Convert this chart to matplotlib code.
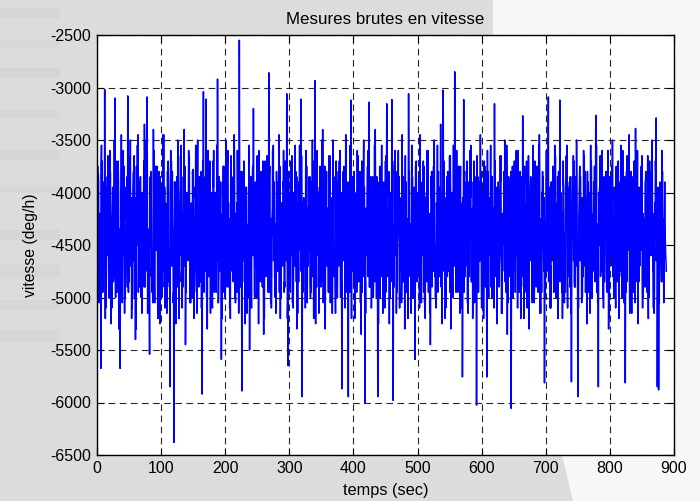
import numpy as np
import matplotlib
matplotlib.use("Agg")
import matplotlib.pyplot as plt
from matplotlib.patches import Polygon, Rectangle

# ---- data (deg/h) ----
# samples at even seconds (0, 2, 4, ...)
vitesse_even = [
    -4750, -3820, -4900, -5675, -3700, -4600, -3020, -5100, -3950, -4450,
    -3600, -5250, -4100, -4800, -3100, -4950, -3900, -5300, -5675, -3450,
    -4700, -3750, -5000, -4200, -3080, -4850, -3500, -5200, -4050, -3650,
    -5400, -4300, -3450, -4900, -3850, -5150, -4000, -3350, -4750, -3090,
    -4600, -5540, -3800, -4950, -3400, -5050, -4100, -3750, -4500, -5250,
    -3950, -4700, -3450, -5100, -4250, -3800, -4850, -5850, -3700, -4400,
    -6380, -3900, -4650, -3500, -5200, -4100, -3850, -4900, -3400, -5450,
    -4000, -4550, -3650, -5050, -4300, -3780, -4950, -3550, -5150, -4150,
    -3850, -4700, -5920, -3040, -4600, -3110, -5300, -4000, -3700, -4850,
    -5100, -3600, -4400, -4950, -2920, -4800, -3900, -5590, -4200, -3750,
    -5000, -4350, -3600, -4750, -5200, -3850, -4550, -3450, -5050, -4100,
    -3700, -2550, -4900, -5890, -3800, -4650, -3950, -5150, -4300, -5500,
    -3850, -4600, -3200, -5000, -4200, -3650, -5250, -4050, -3800, -4900,
    -5350, -3700, -4500, -4000, -2860, -4800, -5100, -3600, -4350, -5000,
    -3800, -4650, -3450, -5200, -4100, -3900, -4950, -3700, -3060, -5650,
    -4000, -4550, -3650, -5100, -4250, -3800, -5300, -4450, -3550, -3110,
    -5945, -4100, -4700, -3600, -5050, -4300, -3850, -4950, -3500, -5200,
    -2935, -4650, -4000, -5150, -3750, -4500, -3400, -4900, -5300, -3800,
    -4450, -3650, -5050, -4200, -3500, -4800, -5150, -3900, -4350, -3700,
    -5000, -5870, -3800, -4600, -3450, -4950, -5945, -4100, -3120, -4750,
    -3950, -5200, -4350, -3600, -4850, -3800, -5350, -4050, -3500, -6000,
    -4250, -3750, -3140, -4900, -5100, -3850, -4600, -3400, -5000, -5945,
    -3900, -4700, -3550, -5150, -4200, -3700, -3155, -4800, -5250, -4000,
    -3115, -5980, -4300, -3800, -4950, -3600, -5100, -4150, -3450, -4850,
    -5300, -3900, -4500, -3060, -4750, -5150, -3850, -4300, -5590, -3700,
    -4600, -4050, -3450, -5050, -4350, -3750, -5200, -4000, -3600, -4900,
    -5450, -3800, -4650, -3500, -5000, -4150, -3900, -4800, -3350, -5250,
    -3025, -4700, -5100, -3850, -4400, -3650, -5300, -4050, -3550, -2850,
    -4950, -4200, -3750, -5150, -4550, -5757, -3115, -4800, -3900, -5050,
    -4300, -3600, -4850, -5200, -3700, -4500, -6025, -3850, -4650, -3450,
    -5100, -4000, -3700, -4900, -5757, -3800, -4450, -3550, -5000, -4150,
    -3155, -4800, -5250, -3900, -4600, -3650, -5150, -4250, -3500, -4950,
    -5350, -3850, -4500, -6055, -3750, -4700, -4050, -3600, -5100, -4350,
    -3800, -4900, -3270, -5200, -4100, -3700, -4800, -5300, -3950, -4450,
    -3550, -5050, -4200, -3750, -4950, -3450, -5150, -4000, -3850, -5813,
    -4400, -3700, -3090, -4850, -5100, -3900, -4600, -3550, -5000, -4250,
    -3800, -3120, -4750, -5200, -3950, -4500, -3650, -5100, -4150, -3850,
    -5803, -4300, -3700, -4900, -3500, -5945, -4100, -3850, -5050, -4450,
    -3650, -4950, -5250, -3900, -4600, -3550, -5000, -4200, -3750, -3265,
    -4850, -5850, -3950, -4500, -3600, -5100, -4300, -3800, -4950, -5300,
    -3850, -4650, -3500, -5000, -4150, -3750, -4800, -5200, -3900, -4400,
    -3600, -5050, -5813, -3800, -4550, -3450, -4900, -5150, -4000, -3700,
    -3390, -4850, -5250, -3950, -4500, -3650, -5000, -4250, -3800, -4950,
    -5200, -3700, -4600, -3500, -5100, -4100, -3290, -5850, -5880, -3900,
    -4700, -3800, -5050, -4300, -4750,
]
# samples at odd seconds (1, 3, 5, ...)
vitesse_odd = [
    -3750, -5050, -4200, -3550, -4950, -3900, -5200, -4400, -3650, -4850, -3800, -5100,
    -4100, -3500, -5000, -4650, -3700, -5250, -3950, -4750, -3600, -5150, -4300, -3850,
    -4950, -3650, -4500, -5100, -3800, -4050, -5300, -3550, -4700, -3900, -5000, -4250,
    -3700, -4900, -3500, -5150, -4350, -3850, -4800, -5050, -3600, -4450, -3950, -5200,
    -3800, -4600, -5000, -3450, -4750, -4100, -5150, -3700, -4900, -3600, -4400, -5050,
    -3900, -5250, -4150, -3650, -4850, -3550, -5100, -4300, -3750, -4950, -4050, -3600,
    -5050, -4400, -3800, -5200, -3950, -4700, -3500, -4900, -4250, -5100, -3700, -4600,
    -3850, -5000, -3600, -4800, -5150, -4000, -3700, -4950, -4350, -3550, -5050, -3900,
    -4650, -5200, -3750, -4450, -3500, -4900, -4100, -5100, -3650, -4750, -3850, -5000,
    -4200, -3600, -5150, -4550, -3800, -4850, -3700, -5250, -3950, -4650, -3550, -4950,
    -5100, -3750, -4300, -3900, -5000, -4700, -3600, -4850, -4150, -3700, -5200, -4400,
    -3650, -4950, -3850, -5050, -4250, -3550, -4800, -5150, -3900, -4500, -3750, -5000,
    -4100, -3600, -4900, -4350, -5200, -3800, -4650, -3700, -5050, -4000, -3550, -4850,
    -5150, -3900, -4450, -3650, -4950, -4200, -5100, -3750, -4600, -3850, -5000, -4300,
    -3700, -4800, -5250, -3600, -4550, -3950, -4900, -3500, -5050, -4150, -3800, -4700,
    -4950, -3650, -4350, -5150, -3850, -4750, -3700, -5000, -4250, -3600, -4900, -4050,
    -3750, -5100, -4500, -3900, -4850, -3550, -5200, -4100, -3800, -4650, -4950, -3650,
    -4400, -5050, -3700, -4800, -3950, -5150, -4250, -3600, -4900, -3850, -4600, -5000,
    -3550, -4700, -4050, -5250, -3750, -4450, -3900, -4950, -5100, -3650, -4550, -3800,
    -5000, -4200, -3700, -4850, -3600, -5150, -4350, -3850, -4750, -5050, -3950, -4500,
    -3650, -4900, -5200, -3800, -4300, -3550, -5000, -4650, -3750, -4850, -4100, -5100,
    -3900, -4600, -3700, -5050, -4400, -3600, -4950, -5150, -3850, -4250, -3750, -4800,
    -5100, -3550, -4500, -3950, -4900, -4150, -3700, -5200, -4350, -3800, -4750, -3650,
    -4850, -5000, -3900, -4600, -3600, -4950, -4250, -3750, -5100, -4050, -3850, -4700,
    -3700, -5150, -4400, -3550, -4850, -3900, -5050, -4300, -3650, -4950, -4150, -3800,
    -4600, -5200, -3750, -4450, -3600, -5000, -4100, -3850, -4800, -5100, -3700, -4550,
    -3950, -4900, -3650, -5150, -4350, -3800, -4700, -3550, -5050, -4200, -3900, -4850,
    -5000, -3700, -4550, -4050, -3600, -4950, -5200, -3850, -4400, -3750, -4800, -5100,
    -3650, -4650, -3900, -5050, -4250, -3700, -4900, -4100, -3550, -5150, -4450, -3800,
    -4750, -5000, -3600, -4500, -3950, -5100, -4300, -3750, -4850, -3650, -4600, -5200,
    -3800, -4400, -4950, -3700, -5050, -4150, -3550, -4800, -3900, -5150, -4350, -3650,
    -4900, -3850, -4600, -5100, -3750, -4250, -5000, -3600, -4700, -4050, -3800, -4950,
    -5150, -3700, -4450, -3900, -4850, -3550, -5050, -4200, -3650, -4750, -5000, -3850,
    -4300, -4900, -3600, -5200, -4100, -3750, -4650, -3950, -5100, -4400, -3700, -4800,
    -3550, -5000, -4250, -3850, -4950, -3650, -4550, -5150, -3800, -4350, -3900, -5050,
    -4700, -3600, -4850, -4150, -3750, -5100, -4450, -3900, -4900, -3650, -5000, -4300,
    -3800, -4750, -5150, -3700, -4500, -3950, -5050, -4100, -3600, -4850, -4250, -4600,
]
# samples half-way between whole seconds (0.5, 1.5, 2.5, ...)
vitesse_half = [
    -4100, -4650, -3900, -4800, -4350, -4550, -3750, -4950, -4200, -4450, -4000, -4700,
    -4500, -3850, -4900, -4250, -4600, -4050, -5000, -4150, -3800, -4750, -4400, -4300,
    -3950, -4850, -4450, -4100, -4700, -3700, -4550, -4950, -4250, -3900, -4650, -4350,
    -4800, -4000, -4400, -5050, -3850, -4600, -4200, -4500, -4750, -3950, -4300, -4900,
    -4150, -4550, -3800, -4700, -4450, -4050, -4850, -4250, -3900, -4650, -5000, -4350,
    -4600, -3750, -4500, -4200, -4950, -4100, -4400, -3850, -4800, -4550, -4000, -4700,
    -4250, -4900, -3950, -4450, -4650, -4150, -3800, -4750, -4350, -5050, -4050, -4500,
    -3900, -4600, -4800, -4300, -4000, -4850, -4450, -3750, -4550, -4200, -4950, -4100,
    -4700, -4350, -3850, -4650, -4500, -4050, -4900, -4250, -4400, -3950, -4750, -4600,
    -4150, -5000, -4300, -3900, -4550, -4800, -4000, -4450, -4700, -3800, -4350, -4950,
    -4450, -4100, -4650, -4250, -3850, -4900, -4550, -4050, -4750, -4350, -3950, -4600,
    -4850, -4200, -4500, -3750, -4700, -4400, -4950, -4000, -4300, -4650, -4150, -3900,
    -4550, -4800, -4100, -4450, -5000, -3850, -4600, -4250, -4750, -4050, -4400, -4900,
    -3950, -4500, -4350, -4700, -4150, -4850, -3800, -4550, -4200, -4650, -4950, -4300,
    -4050, -4750, -4450, -3900, -4600, -4100, -4800, -4350, -3750, -4500, -4250, -4900,
    -4400, -3950, -4700, -4550, -4000, -4850, -4300, -4650, -4150, -5050, -3850, -4450,
    -4750, -4200, -4500, -3900, -4950, -4350, -4050, -4600, -4800, -4100, -4400, -3800,
    -4550, -4900, -4250, -4700, -3950, -4450, -4650, -4000, -4850, -4300, -3750, -4600,
    -4200, -4500, -4950, -4050, -4350, -4750, -3900, -4550, -4150, -4800, -4400, -4000,
    -4650, -3850, -4450, -4900, -4250, -4100, -4700, -4350, -5000, -3950, -4550, -4300,
    -4800, -4150, -3800, -4600, -4450, -4950, -4050, -4700, -4250, -3900, -4850, -4400,
    -4000, -4550, -4750, -4200, -3850, -4650, -4350, -4900, -4100, -4500, -3950, -4800,
    -4350, -4050, -4700, -4450, -4950, -3750, -4600, -4250, -4800, -4150, -4400, -4650,
    -3900, -4850, -4300, -4550, -4000, -4750, -4450, -3850, -4950, -4200, -4600, -4100,
    -4500, -4700, -3950, -4400, -4850, -4250, -4050, -4650, -4350, -5050, -3800, -4550,
    -4250, -4950, -4150, -4600, -3900, -4450, -4800, -4000, -4700, -4300, -4500, -3850,
    -4650, -4100, -4850, -4350, -4550, -3950, -4750, -4200, -4400, -4900, -4050, -4600,
    -4300, -3800, -4500, -4950, -4150, -4700, -4000, -4550, -4850, -4250, -3900, -4450,
    -4800, -4350, -4050, -4650, -4450, -3850, -4900, -4200, -4600, -4000, -4750, -4300,
    -3950, -4600, -4400, -4850, -4100, -4550, -4950, -3750, -4500, -4250, -4700, -4150,
    -4550, -4200, -4750, -3900, -4650, -4350, -4050, -4900, -4450, -3850, -4600, -4800,
    -4100, -4500, -4950, -4300, -3800, -4700, -4250, -4550, -4000, -4850, -4400, -4650,
    -4450, -3950, -4600, -4150, -4800, -4500, -4050, -4750, -4350, -3900, -4950, -4200,
    -4700, -4300, -3850, -4550, -4900, -4100, -4650, -4400, -4000, -4800, -4250, -4500,
    -3900, -4750, -4450, -4050, -4600, -4950, -4200, -3800, -4550, -4350, -4850, -4150,
    -4600, -4000, -4800, -4350, -4150, -4650, -3950, -4500, -4900, -4250, -4050, -4700,
    -4350, -4850, -4100, -4550, -3850, -4750, -4450, -4200, -4650, -5000, -3900, -4400,
    -4800, -4200, -4650, -3900, -4500, -4350, -4950, -4050, -4600, -4150, -4750, -4000,
    -4250, -4550, -4850, -4100, -4700, -3800, -4450, -4900, -4300, -4600, -3950, -4650,
    -4500, -3900, -4400, -4750, -4050, -4600, -4300, -4850, -4150, -3850, -4700, -4450,
    -4050, -4650, -4950, -4250, -4500, -4100, -3800, -4550, -4800, -4350, -4000, -4900,
    -4700, -4300, -3950, -4600, -4850, -4200, -4450, -4000, -4750, -4550, -3850, -4350,
    -4400, -4800, -4150, -4500, -3900, -4950, -4250, -4650, -4050, -4450, -4850, -4100,
    -3850, -4550, -4700, -4200, -4600, -4050, -4900, -4350, -3950, -4750, -4300, -4500,
    -4650, -4100, -4400, -4950, -3800, -4550, -4250, -4700, -4450, -4000, -4850, -4200,
    -4300, -4750, -4050, -4500, -4650, -3900, -4800, -4150, -4600, -4350, -4950, -3950,
    -4550, -4000, -4850, -4300, -4150, -4700, -4450, -3850, -4600, -4900, -4250, -4400,
    -4850, -4350, -3950, -4650, -4500, -4100, -4750, -4200, -4950, -3800, -4550, -4050,
    -4200, -4600, -4450, -3900, -4800, -4300, -4050, -4700, -4500, -4150, -4850, -4400,
    -4500, -3850, -4750, -4250, -4550, -4950, -4000, -4400, -3900, -4650, -4350, -4800,
    -3950, -4700, -4300, -4600, -4100, -4850, -4450, -3800, -4550, -4200, -4900, -4050,
    -4600, -4150, -4900, -4400, -3850, -4500, -4750, -4250, -4050, -4650, -3950, -4550,
    -4350, -4800, -4050, -4700, -4450, -3900, -4600, -4950, -4200, -4500, -4100, -4750,
    -4850, -4250, -4550, -3950, -4650, -4350, -4100, -4800, -4400, -3800, -4700, -4300,
    -4000, -4500, -4750, -4200, -4950, -4050, -4600, -4450, -3900, -4850, -4250, -4650,
    -4450, -3900, -4600, -4800, -4150, -4550, -4000, -4700, -4350, -4950, -4100, -4500,
    -4750, -4200, -4050, -4550, -3850, -4650, -4900, -4300, -4500, -4150, -4800, -3950,
    -4300, -4850, -4500, -4100, -4700, -4400, -3800, -4600, -4250, -4950, -4050, -4550,
    -4600, -4050, -4400, -4900, -4200, -4750, -4350, -3950, -4850, -4500, -4150, -4700,
    -3900, -4650, -4250, -4550, -4950, -4000, -4450, -4800, -4100, -4600, -3850, -4350,
    -4550, -4300, -4850, -4000, -4650, -4200, -4500, -3900, -4750, -4400, -4950, -4150,
    -4200, -4750, -3950, -4600, -4350, -4900, -4100, -4550, -4800, -3850, -4450, -4650,
    -4850, -4400, -4150, -4700, -4000, -4550, -4950, -4250, -3900, -4650, -4300, -4500,
    -4050, -4600, -4800, -4350, -4500, -3800, -4700, -4450, -4150, -4900, -4250, -4000,
    -4650, -4100, -4450, -3950, -4850, -4550, -4200, -4750, -4400, -4050, -4600, -4950,
    -4300, -4700, -4000, -4500, -4250, -4800, -3900, -4650, -4350, -4550, -4100, -4850,
    -4450, -3850, -4600, -4950, -4150, -4400, -4750, -4050, -4550, -4300, -3950, -4700,
    -4800, -4250, -4550, -4100, -4650, -3950, -4500, -4850, -4200, -4600, -4400, -4000,
    -4150, -4750, -4350, -4600, -3900, -4900, -4450, -4050, -4700, -4250, -4850, -4500,
    -4550, -4000, -4800, -4300, -4650, -4150, -3850, -4600, -4950, -4350, -4100, -4750,
    -4350, -4600, -4150, -4850, -4450, -4000, -4700, -4250, -3950, -4550, -4800, -4200,
    -4700, -4250, -4900, -3900, -4500, -4650, -4100, -4800, -4400, -4050, -4600, -4350,
    -4000, -4550, -4350, -4750, -4200, -4950, -4450, -3800, -4650, -4300, -4850, -4100,
    -4600, -4150, -4700, -4400, -4850, -4050, -4550, -4250, -4950, -3900, -4500, -4650,
]
sample_period = 0.5  # seconds between consecutive samples

whole = np.empty(len(vitesse_even) + len(vitesse_odd))
whole[0::2] = vitesse_even
whole[1::2] = vitesse_odd
vitesse = np.empty(len(whole) + len(vitesse_half))
vitesse[0::2] = whole
vitesse[1::2] = vitesse_half
temps = np.arange(len(vitesse)) * sample_period

x_ticks = [0, 100, 200, 300, 400, 500, 600, 700, 800, 900]
y_ticks = [-6500, -6000, -5500, -5000, -4500, -4000, -3500, -3000, -2500]

title = "Mesures brutes en vitesse"
xlabel = "temps (sec)"
ylabel = "vitesse (deg/h)"

plt.rcParams['font.family'] = ['Liberation Sans', 'DejaVu Sans']

W, H = 700, 501
fig = plt.figure(figsize=(W / 100, H / 100), dpi=100, facecolor='#dcdcdc')

# faint horizontal bands in the grey background on the left
for y0, h, c in [(8, 10, '#d6d6d6'), (40, 8, '#d7d7d7'), (68, 10, '#d5d5d5'),
                 (110, 8, '#d7d7d7'), (150, 10, '#d6d6d6'), (185, 8, '#d7d7d7'),
                 (230, 10, '#d5d5d5'), (265, 12, '#d6d6d6'), (300, 10, '#d6d6d6'),
                 (330, 12, '#d7d7d7')]:
    fig.patches.append(Rectangle((0, 1 - (y0 + h) / H), 60 / W, h / H,
                                 transform=fig.transFigure, facecolor=c,
                                 edgecolor='none', zorder=-2))

# light wedge on the right, like the slide behind the figure
pts = [(493, 0), (700, 0), (700, 501), (573, 501), (562, 455), (674, 455), (674, 35), (493, 35)]
fig.patches.append(Polygon([(x / W, 1 - y / H) for x, y in pts], closed=True,
                           transform=fig.transFigure, facecolor='#f7f7f7',
                           edgecolor='none', zorder=-1))

ax = fig.add_axes([97 / W, 1 - 455 / H, (674 - 97) / W, (455 - 35) / H])
ax.set_facecolor('white')

ax.plot(temps, vitesse, color='#0000ff', lw=1.1, zorder=3)

ax.set_xlim(0, 900)
ax.set_ylim(-6500, -2500)
ax.set_xticks(x_ticks)
ax.set_yticks(y_ticks)
ax.set_xticklabels([str(v) for v in x_ticks])
ax.set_yticklabels([str(v) for v in y_ticks])

ax.grid(True, color='black', lw=0.8, linestyle=(0, (6, 4)), alpha=0.85, zorder=1)
ax.set_axisbelow(True)
ax.tick_params(direction='in', length=5, width=0.8, top=True, right=True,
               labelsize=11.5, colors='black', pad=4)
for s in ax.spines.values():
    s.set_linewidth(1.0)
    s.set_color('black')
    s.set_zorder(5)

ax.set_title(title, fontsize=12.2, pad=8)
ax.set_xlabel(xlabel, fontsize=11.8, labelpad=5)
ax.set_ylabel(ylabel, fontsize=11.3, labelpad=9)

fig.savefig("out.png", dpi=100, facecolor=fig.get_facecolor())
